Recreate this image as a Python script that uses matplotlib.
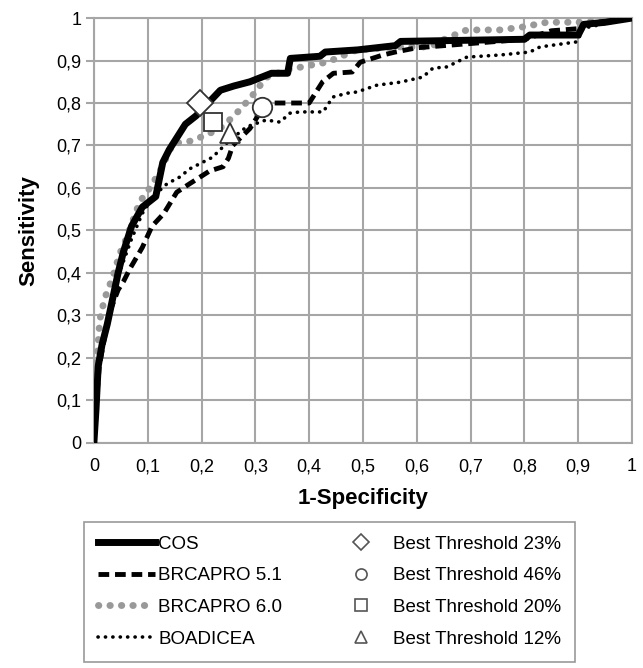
import matplotlib
matplotlib.use("Agg")

import matplotlib.pyplot as plt
from matplotlib.lines import Line2D
from matplotlib.ticker import FuncFormatter

plt.rcParams["font.family"] = ["Liberation Sans", "DejaVu Sans"]

# ROC curves (x = 1-specificity, y = sensitivity)
cos_x = [0, 0.004, 0.008, 0.015, 0.025, 0.035, 0.045, 0.055, 0.07, 0.09, 0.115, 0.128, 0.14,
         0.155, 0.17, 0.19, 0.205, 0.22, 0.235, 0.26, 0.29, 0.33, 0.36, 0.365, 0.42, 0.43,
         0.49, 0.56, 0.57, 0.80, 0.81, 0.90, 0.91, 0.95, 1.0]
cos_y = [0, 0.08, 0.18, 0.23, 0.28, 0.34, 0.40, 0.45, 0.51, 0.555, 0.58, 0.66, 0.69,
         0.72, 0.75, 0.77, 0.79, 0.81, 0.83, 0.84, 0.85, 0.87, 0.87, 0.905, 0.91, 0.92,
         0.925, 0.935, 0.945, 0.95, 0.96, 0.96, 0.985, 0.99, 1.0]

brca51_x = [0, 0.005, 0.01, 0.02, 0.03, 0.045, 0.055, 0.067, 0.09, 0.108, 0.13, 0.154, 0.178,
            0.215, 0.24, 0.25, 0.258, 0.29, 0.305, 0.31, 0.40, 0.41, 0.425, 0.445, 0.48, 0.495,
            0.537, 0.56, 0.6, 0.7, 0.8, 0.85, 0.9, 0.91, 1.0]
brca51_y = [0, 0.1, 0.18, 0.25, 0.31, 0.36, 0.38, 0.41, 0.46, 0.51, 0.54, 0.59, 0.61,
            0.64, 0.65, 0.67, 0.70, 0.74, 0.77, 0.80, 0.80, 0.82, 0.85, 0.87, 0.873, 0.896,
            0.913, 0.92, 0.93, 0.94, 0.95, 0.97, 0.975, 0.985, 1.0]

brca60_x = [0, 0.003, 0.006, 0.011, 0.02, 0.035, 0.048, 0.06, 0.085, 0.104, 0.123, 0.147, 0.178,
            0.21, 0.24, 0.268, 0.293, 0.32, 0.358, 0.407, 0.433, 0.489, 0.563, 0.625, 0.656,
            0.693, 0.755, 0.797, 0.842, 0.903, 1.0]
brca60_y = [0, 0.1, 0.2, 0.29, 0.34, 0.39, 0.445, 0.48, 0.567, 0.6, 0.64, 0.705, 0.71,
            0.725, 0.745, 0.78, 0.815, 0.86, 0.878, 0.89, 0.896, 0.925, 0.932, 0.932, 0.953,
            0.972, 0.972, 0.979, 0.99, 0.99, 1.0]

boad_x = [0, 0.005, 0.01, 0.02, 0.035, 0.05, 0.07, 0.09, 0.11, 0.136, 0.16, 0.178, 0.22, 0.253,
          0.284, 0.32, 0.346, 0.364, 0.383, 0.426, 0.444, 0.47, 0.489, 0.526, 0.569, 0.611,
          0.63, 0.656, 0.693, 0.755, 0.81, 0.829, 0.898, 0.909, 1.0]
boad_y = [0, 0.1, 0.18, 0.26, 0.34, 0.41, 0.48, 0.54, 0.58, 0.61, 0.626, 0.645, 0.672, 0.713,
          0.744, 0.76, 0.755, 0.776, 0.779, 0.779, 0.814, 0.823, 0.826, 0.842, 0.849, 0.861,
          0.882, 0.885, 0.908, 0.913, 0.92, 0.932, 0.944, 0.976, 1.0]

# best thresholds
thr_labels = ["Best Threshold 23%", "Best Threshold 46%", "Best Threshold 20%", "Best Threshold 12%"]
thr_markers = ["D", "o", "s", "^"]
thr_x = [0.197, 0.312, 0.221, 0.253]
thr_y = [0.80, 0.79, 0.755, 0.73]

ticks = [i / 10 for i in range(11)]


def comma_fmt(v, _pos):
    if abs(v) < 1e-9:
        return "0"
    if abs(v - 1) < 1e-9:
        return "1"
    return f"{v:.1f}".replace(".", ",")


fig = plt.figure(figsize=(6.43, 6.68), dpi=100)
ax = fig.add_axes([0.146, 0.337, 0.837, 0.636])

grey = "#a6a6a6"
l_cos, = ax.plot(cos_x, cos_y, color="black", lw=5, solid_joinstyle="round", zorder=5)
l_51, = ax.plot(brca51_x, brca51_y, color="black", lw=3.5, ls=(0, (2.2, 1.2)), zorder=4)
l_60, = ax.plot(brca60_x, brca60_y, color="#999999", lw=5, ls=(0, (0.05, 1.6)),
                dash_capstyle="round", zorder=3)
l_bo, = ax.plot(boad_x, boad_y, color="black", lw=2.6, ls=(0, (0.05, 2.0)),
                dash_capstyle="round", zorder=4)

sizes = [13, 14, 13, 14]
for m, x, y, s in zip(thr_markers, thr_x, thr_y, sizes):
    ax.plot([x], [y], marker=m, ms=s, mfc="white", mec="#333333", mew=1.3, ls="none", zorder=6)

ax.set_xlim(0, 1)
ax.set_ylim(0, 1)
ax.set_xticks(ticks)
ax.set_yticks(ticks)
ax.xaxis.set_major_formatter(FuncFormatter(comma_fmt))
ax.yaxis.set_major_formatter(FuncFormatter(comma_fmt))
ax.grid(True, color=grey, lw=1.5)
ax.set_axisbelow(True)
for sp in ax.spines.values():
    sp.set_color(grey)
    sp.set_linewidth(1.5)
ax.tick_params(axis="y", length=6, width=1.5, color=grey, labelsize=13, pad=3)
ax.tick_params(axis="x", length=0, labelsize=13, pad=11)
ax.set_xlabel("1-Specificity", fontsize=16, fontweight="bold", labelpad=9)
ax.set_ylabel("Sensitivity", fontsize=16, fontweight="bold", labelpad=12)

handles = [l_cos, l_51, l_60, l_bo]
for m in thr_markers:
    handles.append(Line2D([], [], marker=m, ms=8, mfc="white", mec="#555555", mew=1.2, ls="none"))
labels = ["COS", "BRCAPRO 5.1", "BRCAPRO 6.0", "BOADICEA"] + thr_labels

leg = fig.legend(handles, labels, ncol=2, loc="upper left",
                 bbox_to_anchor=(0.131, 0.009, 0.763, 0.21), mode="expand",
                 fontsize=13.5, handlelength=3.0, handletextpad=0.2, labelspacing=0.77,
                 columnspacing=2.5, borderaxespad=0, frameon=True, fancybox=False,
                 borderpad=0.75)
leg.get_frame().set_edgecolor("#808080")
leg.get_frame().set_linewidth(1.2)

fig.savefig("out.png", dpi=100)
